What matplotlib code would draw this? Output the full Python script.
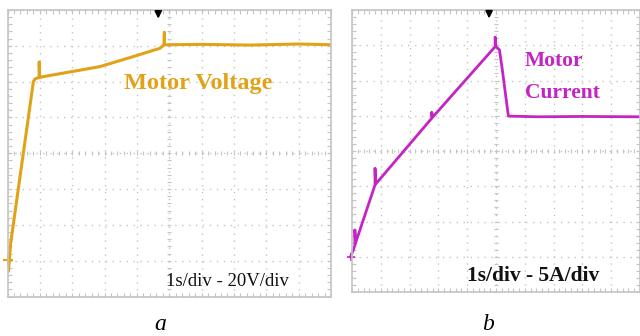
import matplotlib.pyplot as plt
import numpy as np
from matplotlib.ticker import MultipleLocator

# trace key points in scope divisions (x: 10 div, y: 8 div)
volt_x = [0.03, 0.10, 0.80, 0.86, 0.98, 0.98, 0.99, 1.8, 2.86, 3.89, 4.71, 4.84, 4.85, 4.85, 4.87, 6.0, 7.5, 9.0, 10.0]
volt_y = [0.72, 1.50, 6.00, 6.08, 6.12, 6.55, 6.12, 6.25, 6.42, 6.70, 6.93, 7.03, 7.38, 7.03, 7.03, 7.04, 7.02, 7.05, 7.03]

curr_x = [-0.05, 0.05, 0.10, 0.10, 0.12, 0.80, 0.80, 0.82, 2.77, 2.77, 2.79, 4.97, 4.97, 5.00, 5.12, 5.22, 5.43, 6.5, 8.0, 10.0]
curr_y = [1.00, 1.20, 1.33, 1.76, 1.38, 3.04, 3.51, 3.06, 4.93, 5.10, 4.95, 6.96, 7.23, 6.96, 6.87, 6.30, 4.99, 4.97, 4.98, 4.97]

trig_a = 4.66
trig_b = 4.76

volt_color = '#E2A218'
curr_color = '#C424C4'
grid_color = '#C4C4C4'

fig = plt.figure(figsize=(6.4, 3.36), dpi=100)
fig.patch.set_facecolor('white')

ax_a = fig.add_axes([7.5/640, 1 - 296.5/336, 323.5/640, 286.5/336])
ax_b = fig.add_axes([352/640, 1 - 292/336, 288/640, 282/336])


def scope_axes(ax):
    ax.set_xlim(0, 10)
    ax.set_ylim(0, 8)
    ax.xaxis.set_major_locator(MultipleLocator(1))
    ax.yaxis.set_major_locator(MultipleLocator(1))
    ax.xaxis.set_minor_locator(MultipleLocator(0.2))
    ax.yaxis.set_minor_locator(MultipleLocator(0.2))
    ax.tick_params(which='both', direction='in', length=3, width=0.8,
                   color=grid_color, top=True, right=True,
                   labelbottom=False, labelleft=False)
    for s in ax.spines.values():
        s.set_color(grid_color)
        s.set_linewidth(1.2)
    ax.grid(True, which='major', color=grid_color, linestyle=(0, (1, 4)), linewidth=1.0)
    # center axes with small ticks
    ax.plot(np.arange(0, 10.01, 0.2), np.full(51, 4.0), '|', color=grid_color, ms=3.5, mew=0.8)
    ax.plot(np.full(41, 5.0), np.arange(0, 8.01, 0.2), '_', color=grid_color, ms=3.5, mew=0.8)


scope_axes(ax_a)
scope_axes(ax_b)

ax_a.plot(volt_x, volt_y, color=volt_color, lw=2.2, solid_joinstyle='round')
ax_a.plot([0.0], [1.02], marker='+', color=volt_color, ms=7, mew=1.5, clip_on=False)
ax_a.annotate('', xy=(trig_a, 7.68), xytext=(trig_a, 8.05),
              arrowprops=dict(arrowstyle='-|>', color='black', lw=1.4, mutation_scale=10),
              annotation_clip=False)
ax_a.text(3.6, 5.95, 'Motor Voltage', color=volt_color, fontsize=17.5, fontweight='bold',
          family='Liberation Serif', va='center', ha='left')
ax_a.text(4.9, 0.41, '1s/div - 20V/div', color='#111111', fontsize=13.5,
          family='Liberation Serif', va='center', ha='left')

ax_b.plot(curr_x, curr_y, color=curr_color, lw=2.0, solid_joinstyle='round', clip_on=False)
ax_b.plot([-0.05], [1.0], marker='+', color=curr_color, ms=6, mew=1.2, clip_on=False)
ax_b.annotate('', xy=(trig_b, 7.68), xytext=(trig_b, 8.05),
              arrowprops=dict(arrowstyle='-|>', color='black', lw=1.4, mutation_scale=10),
              annotation_clip=False)
ax_b.text(6.0, 6.55, 'Motor', color=curr_color, fontsize=15.5, fontweight='bold',
          family='Liberation Serif', va='center', ha='left')
ax_b.text(6.0, 5.65, 'Current', color=curr_color, fontsize=15.5, fontweight='bold',
          family='Liberation Serif', va='center', ha='left')
ax_b.text(4.0, 0.45, '1s/div - 5A/div', color='#111111', fontsize=15.5, fontweight='bold',
          family='Liberation Serif', va='center', ha='left')

fig.text(160/640, 1 - 325/336, 'a', fontsize=17, style='italic',
         family='Liberation Serif', ha='center', va='center')
fig.text(488/640, 1 - 325/336, 'b', fontsize=17, style='italic',
         family='Liberation Serif', ha='center', va='center')

fig.savefig('out.png', dpi=100, facecolor='white')
